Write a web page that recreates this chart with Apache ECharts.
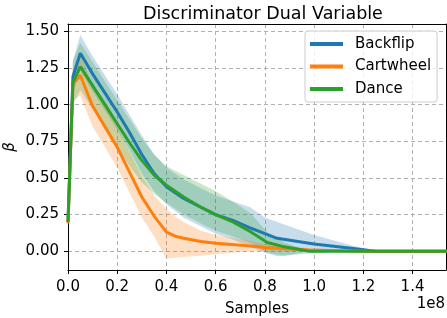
<!DOCTYPE html>
<html>
<head>
<meta charset="utf-8">
<script src="https://cdn.jsdelivr.net/npm/echarts@6/dist/echarts.min.js"></script>
<style>html,body{margin:0;padding:0;background:#fff}#c{width:447px;height:318px}</style>
</head>
<body>
<div id="c"></div>
<script>
// ---- data (x in samples) ----
const BACKFLIP_X = [0, 2e6, 5e6, 10e6, 15e6, 20e6, 25e6, 30e6, 35e6, 40e6, 47e6, 54e6, 60e6, 67e6, 74e6, 80e6, 85e6, 100e6, 115e6, 125e6, 154e6];
const BACKFLIP_Y = [0.20, 1.19, 1.35, 1.21, 1.08, 0.95, 0.81, 0.66, 0.53, 0.44, 0.36, 0.30, 0.25, 0.21, 0.16, 0.12, 0.088, 0.05, 0.02, 0.0, 0.0];
const BACKFLIP_HI = [0.21, 1.30, 1.475, 1.33, 1.20, 1.07, 0.93, 0.79, 0.66, 0.57, 0.49, 0.43, 0.38, 0.34, 0.30, 0.23, 0.20, 0.11, 0.04, 0.0, 0.0];
const BACKFLIP_LO = [0.19, 1.08, 1.23, 1.09, 0.96, 0.83, 0.69, 0.53, 0.41, 0.32, 0.23, 0.17, 0.12, 0.08, 0.03, -0.01, -0.035, -0.012, 0.0, 0.0, 0.0];

const CARTWHEEL_X = [0, 2e6, 5e6, 10e6, 15e6, 20e6, 25e6, 30e6, 35e6, 40e6, 44e6, 47e6, 54e6, 60e6, 74e6, 80e6, 98e6, 120e6, 154e6];
const CARTWHEEL_Y = [0.19, 1.14, 1.20, 0.99, 0.85, 0.71, 0.54, 0.37, 0.24, 0.13, 0.10, 0.089, 0.066, 0.054, 0.036, 0.025, 0.009, 0.0, 0.0];
const CARTWHEEL_HI = [0.20, 1.24, 1.34, 1.13, 0.99, 0.85, 0.68, 0.51, 0.38, 0.29, 0.23, 0.20, 0.14, 0.11, 0.07, 0.05, 0.02, 0.0, 0.0];
const CARTWHEEL_LO = [0.18, 1.03, 1.06, 0.85, 0.71, 0.57, 0.40, 0.23, 0.10, -0.05, -0.045, -0.04, -0.03, -0.02, 0.0, 0.0, 0.0, 0.0, 0.0];

const DANCE_X = [0, 2e6, 5e6, 10e6, 15e6, 20e6, 25e6, 30e6, 35e6, 40e6, 47e6, 54e6, 60e6, 67e6, 74e6, 81e6, 88e6, 98e6, 110e6, 154e6];
const DANCE_Y = [0.20, 1.15, 1.26, 1.13, 1.00, 0.87, 0.74, 0.62, 0.52, 0.45, 0.37, 0.30, 0.25, 0.20, 0.135, 0.06, 0.03, 0.0, 0.0, 0.0];
const DANCE_HI = [0.21, 1.30, 1.42, 1.29, 1.16, 1.03, 0.90, 0.77, 0.66, 0.58, 0.52, 0.46, 0.41, 0.34, 0.26, 0.13, 0.06, 0.0, 0.0, 0.0];
const DANCE_LO = [0.19, 1.00, 1.10, 0.97, 0.84, 0.71, 0.58, 0.47, 0.39, 0.33, 0.25, 0.19, 0.14, 0.10, 0.06, -0.01, -0.03, 0.0, 0.0, 0.0];

const SERIES_NAMES = ['Backflip', 'Cartwheel', 'Dance'];
const X_TICKS = [0, 0.2e8, 0.4e8, 0.6e8, 0.8e8, 1.0e8, 1.2e8, 1.4e8];
const Y_TICKS = [0, 0.25, 0.5, 0.75, 1.0, 1.25, 1.5];

const COLORS = ['#1f77b4', '#ff7f0e', '#2ca02c'];
const BAND_COLORS = ['rgba(31,119,180,0.25)', 'rgba(255,127,14,0.25)', 'rgba(44,160,44,0.25)'];
const FONT = 'DejaVu Sans';

function pairs(xs, ys) { return xs.map((x, i) => [x, ys[i]]); }

function band(name, xs, lo, hi, color) {
  const data = xs.map((x, i) => [x, lo[i], hi[i]]);
  return {
    type: 'custom', name: name + '_band', data: data, silent: true, clip: true,
    encode: { x: 0, y: [1, 2] },
    renderItem: function (params, api) {
      if (params.dataIndex !== 0) return;
      const pts = [];
      for (let i = 0; i < data.length; i++) pts.push(api.coord([data[i][0], data[i][2]]));
      for (let i = data.length - 1; i >= 0; i--) pts.push(api.coord([data[i][0], data[i][1]]));
      return { type: 'polygon', shape: { points: pts }, style: { fill: color } };
    }
  };
}

function line(name, xs, ys, color) {
  return {
    type: 'line', name: name, data: pairs(xs, ys), showSymbol: false, symbol: 'none',
    lineStyle: { color: color, width: 3 }, itemStyle: { color: color }, z: 3
  };
}

const XMIN = 0, XMAX = 1.536e8, YMIN = -0.128, YMAX = 1.55;
const gridLine = { show: true, lineStyle: { color: '#b0b0b0', width: 1, type: [4, 3] } };

const chart = echarts.init(document.getElementById('c'), null, { renderer: 'canvas' });
chart.setOption({
  animation: false,
  backgroundColor: '#fff',
  title: {
    text: 'Discriminator Dual Variable', left: 258, textAlign: 'center', top: 0,
    textStyle: { fontFamily: FONT, fontSize: 17.5, fontWeight: 'normal', color: '#000' }
  },
  grid: { left: 68, top: 24, width: 378, height: 246, containLabel: false, outerBoundsMode: 'none' },
  legend: {
    data: SERIES_NAMES, orient: 'vertical', left: 305, top: 31,
    itemWidth: 33, itemHeight: 4, itemGap: 6.5, icon: 'rect',
    padding: [5, 6, 5, 5],
    backgroundColor: 'rgba(255,255,255,0.8)', borderColor: '#cccccc', borderWidth: 1, borderRadius: 3,
    textStyle: { fontFamily: FONT, fontSize: 15, color: '#000', lineHeight: 16, padding: [0, 0, 0, 7] }
  },
  xAxis: [{
    type: 'value', min: XMIN, max: XMAX,
    name: 'Samples', nameLocation: 'middle', nameGap: 32, nameMoveOverlap: false,
    nameTextStyle: { fontFamily: FONT, fontSize: 15, color: '#000' },
    axisLine: { show: true, onZero: false, lineStyle: { color: '#000', width: 1 } },
    axisTick: { show: true, length: 4, customValues: X_TICKS, lineStyle: { color: '#000' } },
    axisLabel: { customValues: X_TICKS, formatter: v => (v / 1e8).toFixed(1), fontFamily: FONT, fontSize: 15, color: '#000', margin: 10 },
    splitLine: gridLine
  }, {
    type: 'value', position: 'top', min: XMIN, max: XMAX,
    axisLine: { show: true, onZero: false, lineStyle: { color: '#000', width: 1 } },
    axisTick: { show: false }, axisLabel: { show: false }, splitLine: { show: false }
  }],
  yAxis: [{
    type: 'value', min: YMIN, max: YMAX,
    name: 'β', nameLocation: 'middle', nameGap: 50, nameRotate: 90, nameMoveOverlap: false,
    nameTextStyle: { fontFamily: FONT, fontSize: 15, fontStyle: 'italic', color: '#000' },
    axisLine: { show: true, onZero: false, lineStyle: { color: '#000', width: 1 } },
    axisTick: { show: true, length: 4, customValues: Y_TICKS, lineStyle: { color: '#000' } },
    axisLabel: { customValues: Y_TICKS, formatter: v => v.toFixed(2), fontFamily: FONT, fontSize: 15, color: '#000', margin: 9 },
    splitLine: gridLine
  }, {
    type: 'value', position: 'right', min: YMIN, max: YMAX,
    axisLine: { show: true, onZero: false, lineStyle: { color: '#000', width: 1 } },
    axisTick: { show: false }, axisLabel: { show: false }, splitLine: { show: false }
  }],
  graphic: [{
    type: 'text', right: 2, top: 297,
    style: { text: '1e8', fontFamily: FONT, fontSize: 15, fill: '#000' }
  }],
  series: [
    band('Backflip', BACKFLIP_X, BACKFLIP_LO, BACKFLIP_HI, BAND_COLORS[0]),
    band('Cartwheel', CARTWHEEL_X, CARTWHEEL_LO, CARTWHEEL_HI, BAND_COLORS[1]),
    band('Dance', DANCE_X, DANCE_LO, DANCE_HI, BAND_COLORS[2]),
    line('Backflip', BACKFLIP_X, BACKFLIP_Y, COLORS[0]),
    line('Cartwheel', CARTWHEEL_X, CARTWHEEL_Y, COLORS[1]),
    line('Dance', DANCE_X, DANCE_Y, COLORS[2])
  ]
});
</script>
</body>
</html>
